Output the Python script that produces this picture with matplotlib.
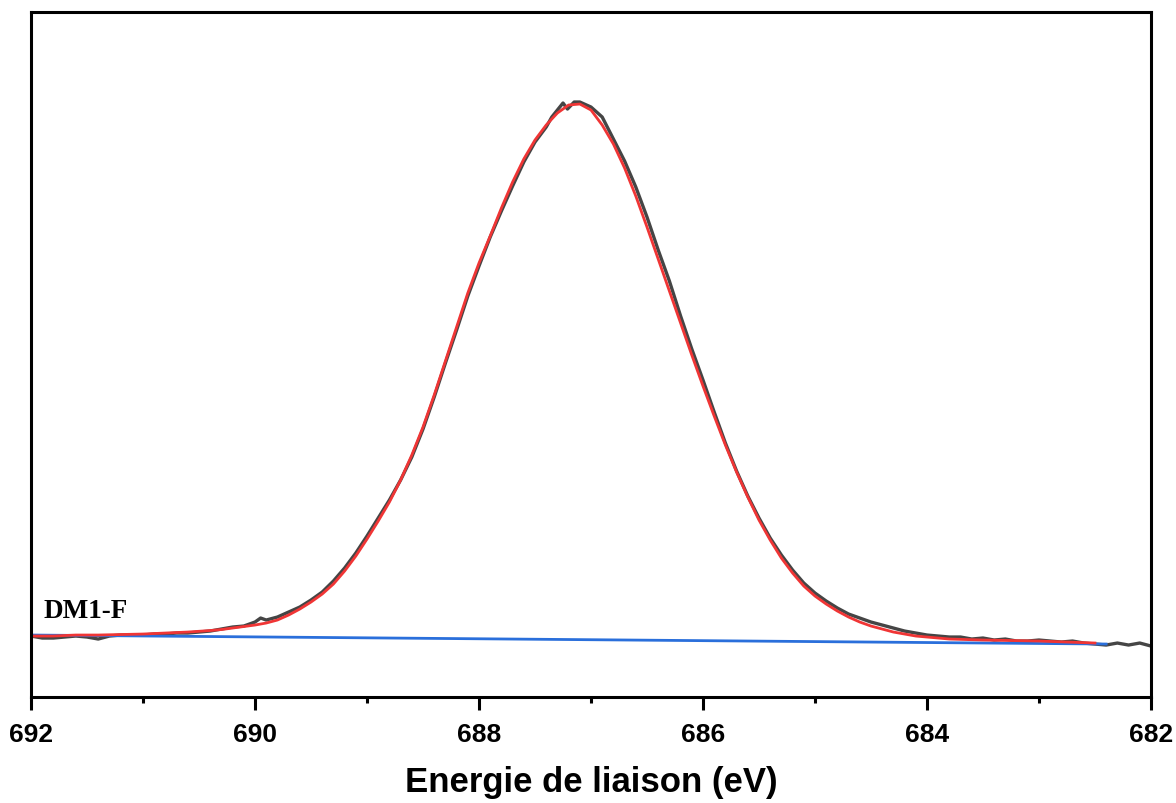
import matplotlib
matplotlib.use("Agg")
from matplotlib import pyplot as plt
import numpy as np

# raw spectrum (binding energy in eV, intensity a.u.)
e_raw = [692.0, 691.9, 691.8, 691.7, 691.6, 691.5, 691.4, 691.3, 691.2, 691.1,
         691.0, 690.9, 690.8, 690.7, 690.6, 690.5, 690.4, 690.3, 690.2, 690.1,
         690.0, 689.95, 689.9, 689.8, 689.7, 689.6, 689.5, 689.4, 689.3, 689.2,
         689.1, 689.0, 688.9, 688.8, 688.7, 688.6, 688.5, 688.4, 688.3, 688.2,
         688.1, 688.0, 687.9, 687.8, 687.7, 687.6, 687.5, 687.4, 687.35, 687.3,
         687.25, 687.21, 687.15, 687.1, 687.0, 686.9, 686.8, 686.7, 686.6, 686.5,
         686.4, 686.3, 686.2, 686.1, 686.0, 685.9, 685.8, 685.7, 685.6, 685.5,
         685.4, 685.3, 685.2, 685.1, 685.0, 684.9, 684.8, 684.7, 684.6, 684.5,
         684.4, 684.3, 684.2, 684.1, 684.0, 683.9, 683.8, 683.7, 683.6, 683.5,
         683.4, 683.3, 683.2, 683.1, 683.0, 682.9, 682.8, 682.7, 682.6, 682.5,
         682.4, 682.3, 682.2, 682.1, 682.0]
i_raw = [61, 59, 59, 60, 61, 60, 58, 61, 62, 62,
         62, 63, 63, 64, 64, 65, 66, 68, 70, 71,
         75, 79, 77, 80, 85, 90, 97, 105, 116, 129,
         144, 161, 179, 197, 217, 240, 268, 300, 334, 367,
         401, 431, 460, 486, 511, 535, 555, 570, 580, 587,
         594, 588, 595, 595, 590, 580, 558, 536, 510, 480,
         447, 416, 381, 348, 317, 285, 254, 226, 201, 179,
         159, 142, 127, 114, 104, 96, 89, 83, 79, 75,
         72, 69, 66, 64, 62, 61, 60, 60, 58, 59,
         57, 58, 56, 56, 57, 56, 55, 56, 54, 53,
         52, 54, 52, 54, 51]

# fitted peak
e_fit = [692.0, 691.8, 691.6, 691.4, 691.2, 691.0, 690.8, 690.6, 690.4, 690.3,
         690.2, 690.1, 690.0, 689.9, 689.8, 689.7, 689.6, 689.5, 689.4, 689.3,
         689.2, 689.1, 689.0, 688.9, 688.8, 688.7, 688.6, 688.5, 688.4, 688.3,
         688.2, 688.1, 688.0, 687.9, 687.8, 687.7, 687.6, 687.5, 687.4, 687.3,
         687.2, 687.1, 687.0, 686.9, 686.8, 686.7, 686.6, 686.5, 686.4, 686.3,
         686.2, 686.1, 686.0, 685.9, 685.8, 685.7, 685.6, 685.5, 685.4, 685.3,
         685.2, 685.1, 685.0, 684.9, 684.8, 684.7, 684.6, 684.5, 684.4, 684.3,
         684.2, 684.1, 684.0, 683.8, 683.5, 683.0, 682.5]
i_fit = [61, 61, 62, 62, 62.5, 63, 64, 65, 66.5, 67.5,
         69, 70.5, 72, 74, 77, 82, 88, 95, 103, 113,
         126, 141, 158, 176, 195, 217, 242, 270, 302, 336,
         370, 404, 434, 461, 489, 515, 538, 557, 572, 584,
         592, 593, 587, 572, 553, 529, 501, 470, 438, 406,
         374, 342, 311, 281, 252, 225, 200, 177, 157, 139,
         124, 111, 101, 93, 86, 80, 75, 71, 68, 65,
         63, 61, 60, 58, 57, 56, 54]

# background
e_bg = [692.0, 682.4]
i_bg = [62, 53]

fig = plt.figure(figsize=(11.76, 8.04), dpi=100)
ax = fig.add_axes([0.0264, 0.1318, 0.9523, 0.852])

ax.plot(e_raw, i_raw, color='#454545', lw=2.4)
ax.plot(e_bg, i_bg, color='#2a6fdb', lw=2.0)
ax.plot(e_fit, i_fit, color='#f03535', lw=2.0)

ax.set_xlim(692, 682)
ax.set_ylim(0, 685)
ax.set_xticks(np.arange(682, 693, 2))
ax.set_xticks(np.arange(683, 692, 2), minor=True)
ax.set_yticks([])
for s in ax.spines.values():
    s.set_linewidth(2.2)
ax.tick_params(axis='x', which='major', length=9, width=2.2, pad=9,
               labelsize=19)
ax.tick_params(axis='x', which='minor', length=4.5, width=2.2)
for lb in ax.get_xticklabels():
    lb.set_family('Liberation Sans')
    lb.set_fontweight('bold')

ax.set_xlabel('Energie de liaison (eV)', fontsize=25, fontweight='bold',
              family='Liberation Sans', labelpad=14)
ax.text(691.89, 80, 'DM1-F', fontsize=19.5, fontweight='bold',
        family='Liberation Serif', ha='left', va='baseline')

fig.savefig('out.png', dpi=100)
